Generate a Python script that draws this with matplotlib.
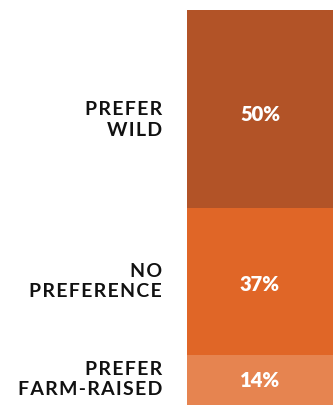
import matplotlib
matplotlib.use("Agg")
import matplotlib.pyplot as plt

labels = ["PREFER\nWILD", "NO\nPREFERENCE", "PREFER\nFARM-RAISED"]
values = [50, 37, 14]
colors = ["#B25327", "#E06627", "#E68450"]

# small nudges (points) to match the original placement
label_dy = [-8, 0, 2]
pct_dy = [-4, -2, 1]


def spaced(s, sep="\u200a"):
    return "\n".join(sep.join(line) for line in s.split("\n"))


fig = plt.figure(figsize=(3.33, 4.05), dpi=100)
ax = fig.add_axes([187 / 333, -5 / 405, 146 / 333, 400 / 405])

bottom = 0
for lab, val, col, ldy, pdy in zip(labels, values, colors, label_dy, pct_dy):
    ax.bar(0, val, bottom=bottom, width=1, color=col, edgecolor="none")
    mid = bottom + val / 2
    ax.annotate(f"{val}%", (0, mid), xytext=(0, pdy), textcoords="offset points",
                ha="center", va="center", color="white", fontsize=14.5,
                fontweight="heavy", family=["Lato", "DejaVu Sans"])
    ax.annotate(spaced(lab), (-0.5, mid), xytext=(-18, ldy), textcoords="offset points",
                ha="right", va="center", multialignment="right", color="#111111",
                fontsize=14, fontweight="bold", family=["Lato", "DejaVu Sans"],
                linespacing=1.25, annotation_clip=False)
    bottom += val

ax.set_xlim(-0.5, 0.5)
ax.set_ylim(sum(values), 0)
ax.axis("off")

fig.savefig("out.png", dpi=100)
